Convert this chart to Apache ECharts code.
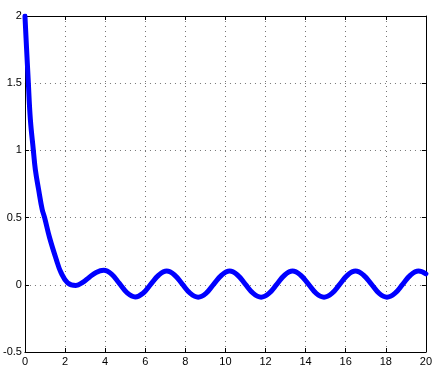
<!DOCTYPE html>
<html>
<head>
<meta charset="utf-8">
<script src="https://cdn.jsdelivr.net/npm/echarts@6/dist/echarts.min.js"></script>
<style>html,body{margin:0;padding:0;background:#fff;}#c{width:435px;height:367px;}</style>
</head>
<body>
<div id="c"></div>
<script>
var tValues = [0, 0.08, 0.16, 0.27, 0.42, 0.52, 0.68, 0.86, 0.98, 1.23, 1.56, 1.80, 2.13, 2.54, 2.9, 3.2, 3.55, 3.93,
  4.32, 4.71, 5.1, 5.5, 5.89, 6.28, 6.68, 7.07, 7.46, 7.85, 8.25, 8.64, 9.03, 9.42, 9.82, 10.21, 10.6, 10.99,
  11.39, 11.78, 12.17, 12.57, 12.96, 13.35, 13.74, 14.14, 14.53, 14.92, 15.31, 15.71, 16.1, 16.49, 16.88, 17.28,
  17.67, 18.06, 18.45, 18.85, 19.24, 19.63, 20.0];
var yValues = [2.0, 1.76, 1.53, 1.23, 1.0, 0.855, 0.71, 0.56, 0.50, 0.35, 0.19, 0.09, 0.015, -0.005, 0.02, 0.055, 0.092, 0.108,
  0.08, 0.01, -0.06, -0.09, -0.063, 0.005, 0.073, 0.102, 0.073, 0.005, -0.064, -0.092, -0.064, 0.005, 0.073, 0.102, 0.073, 0.005,
  -0.064, -0.092, -0.064, 0.005, 0.073, 0.102, 0.073, 0.005, -0.064, -0.092, -0.064, 0.005, 0.073, 0.102, 0.073, 0.005,
  -0.064, -0.092, -0.064, 0.005, 0.073, 0.102, 0.082];
var xTicks = {min: 0, max: 20, interval: 2};
var yTicks = {min: -0.5, max: 2, interval: 0.5};

var data = tValues.map(function (t, i) { return [t, yValues[i]]; });
var font = {fontFamily: 'Liberation Sans, Arial, sans-serif', fontSize: 11, color: '#000'};
var dotted = {show: true, lineStyle: {color: '#777', type: [1, 4], width: 1}};
var chart = echarts.init(document.getElementById('c'), null, {renderer: 'canvas'});
chart.setOption({
  animation: false,
  backgroundColor: '#fff',
  grid: {left: 24, right: 6, top: 16, bottom: 14, show: false},
  xAxis: [{
    type: 'value', min: xTicks.min, max: xTicks.max, interval: xTicks.interval,
    axisLine: {show: true, onZero: false, lineStyle: {color: '#000', width: 1}},
    axisTick: {show: true, inside: true, length: 4, lineStyle: {color: '#000'}},
    axisLabel: Object.assign({margin: 4}, font),
    splitLine: dotted
  }, {
    type: 'value', position: 'top', min: xTicks.min, max: xTicks.max, interval: xTicks.interval,
    axisLine: {show: true, onZero: false, lineStyle: {color: '#000', width: 1}},
    axisTick: {show: true, inside: true, length: 4, lineStyle: {color: '#000'}},
    axisLabel: {show: false}, splitLine: {show: false}
  }],
  yAxis: [{
    type: 'value', min: yTicks.min, max: yTicks.max, interval: yTicks.interval,
    axisLine: {show: true, onZero: false, lineStyle: {color: '#000', width: 1}},
    axisTick: {show: true, inside: true, length: 4, lineStyle: {color: '#000'}},
    axisLabel: Object.assign({margin: 3}, font),
    splitLine: dotted
  }, {
    type: 'value', position: 'right', min: yTicks.min, max: yTicks.max, interval: yTicks.interval,
    axisLine: {show: true, onZero: false, lineStyle: {color: '#000', width: 1}},
    axisTick: {show: true, inside: true, length: 4, lineStyle: {color: '#000'}},
    axisLabel: {show: false}, splitLine: {show: false}
  }],
  series: [{
    type: 'line', data: data, xAxisIndex: 0, yAxisIndex: 0,
    smooth: 0.4, showSymbol: false, clip: true,
    lineStyle: {color: '#0000ff', width: 5, cap: 'round', join: 'round'}
  }]
});
</script>
</body>
</html>
